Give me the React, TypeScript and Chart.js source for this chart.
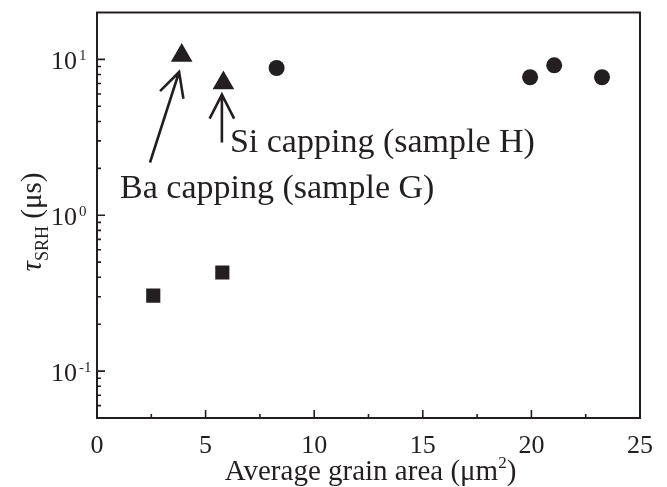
import React, { useEffect, useRef } from "react";
import { Chart, registerables } from "chart.js";

Chart.register(...registerables);

const squares = [
  { x: 2.59, y: 0.305 },
  { x: 5.77, y: 0.429 },
];
const triangles = [
  { x: 3.9, y: 10.6 },
  { x: 5.82, y: 7.06 },
];
const circles = [
  { x: 8.27, y: 8.81 },
  { x: 19.94, y: 7.68 },
  { x: 21.05, y: 9.16 },
  { x: 23.25, y: 7.68 },
];
const xTicks = [0, 5, 10, 15, 20, 25];
const xMinor = [2.5, 7.5, 12.5, 17.5, 22.5];
const yMajor = [0.1, 1, 10];
const yExp = ["-1", "0", "1"];
const yMinor = [0.06, 0.07, 0.08, 0.09, 0.2, 0.3, 0.4, 0.5, 0.6, 0.7, 0.8, 0.9, 2, 3, 4, 5, 6, 7, 8, 9];
const notes = [
  { text: "Si capping (sample H)", x: 6.12, y: 2.53, tailX: 5.75, tailY: 2.93, tipX: 5.75, tipY: 5.95 },
  { text: "Ba capping (sample G)", x: 1.06, y: 1.29, tailX: 2.44, tailY: 2.18, tipX: 3.78, tipY: 8.3 },
];
const xTitleParts = ["Average grain area (μm", "2", ")"];

const INK = "#231f20";
const SERIF = "'Liberation Serif', 'Times New Roman', serif";

const drawPlugin = {
  id: "customAxes",
  afterDraw(chart: any) {
    const { ctx, chartArea: a, scales } = chart;
    const xs = scales.x;
    const ys = scales.y;
    ctx.save();
    ctx.strokeStyle = INK;
    ctx.fillStyle = INK;
    ctx.lineWidth = 2;
    ctx.strokeRect(a.left, a.top, a.right - a.left, a.bottom - a.top);

    ctx.lineWidth = 1.6;
    ctx.beginPath();
    xTicks.forEach((v) => {
      const px = xs.getPixelForValue(v);
      ctx.moveTo(px, a.bottom);
      ctx.lineTo(px, a.bottom - 8);
    });
    xMinor.forEach((v) => {
      const px = xs.getPixelForValue(v);
      ctx.moveTo(px, a.bottom);
      ctx.lineTo(px, a.bottom - 4);
    });
    yMajor.forEach((v) => {
      const py = ys.getPixelForValue(v);
      ctx.moveTo(a.left, py);
      ctx.lineTo(a.left + 8, py);
    });
    yMinor.forEach((v) => {
      const py = ys.getPixelForValue(v);
      ctx.moveTo(a.left, py);
      ctx.lineTo(a.left + 4, py);
    });
    ctx.stroke();

    // x tick labels
    ctx.font = `26px ${SERIF}`;
    ctx.textAlign = "center";
    ctx.textBaseline = "alphabetic";
    xTicks.forEach((v) => {
      ctx.fillText(String(v), xs.getPixelForValue(v), a.bottom + 35);
    });

    // x title with superscript
    const mainFont = `29px ${SERIF}`;
    const supFont = `17px ${SERIF}`;
    ctx.font = mainFont;
    const w0 = ctx.measureText(xTitleParts[0]).width;
    const w2 = ctx.measureText(xTitleParts[2]).width;
    ctx.font = supFont;
    const w1 = ctx.measureText(xTitleParts[1]).width;
    let tx = (a.left + a.right) / 2 + 2 - (w0 + w1 + w2) / 2;
    ctx.textAlign = "left";
    ctx.font = mainFont;
    ctx.fillText(xTitleParts[0], tx, 480);
    tx += w0;
    ctx.font = supFont;
    ctx.fillText(xTitleParts[1], tx, 468);
    tx += w1;
    ctx.font = mainFont;
    ctx.fillText(xTitleParts[2], tx, 480);

    // y tick labels
    yMajor.forEach((v, i) => {
      const py = ys.getPixelForValue(v);
      ctx.font = `26px ${SERIF}`;
      ctx.textAlign = "right";
      ctx.fillText("10", 77, py + 10);
      ctx.font = `15px ${SERIF}`;
      ctx.textAlign = "left";
      ctx.fillText(yExp[i], 79, py + 1);
    });

    // y title (rotated)
    const parts = [
      { t: "τ", f: `italic 29px ${SERIF}`, dy: 0 },
      { t: "SRH", f: `18px ${SERIF}`, dy: 7 },
      { t: " (μs)", f: `29px ${SERIF}`, dy: 0 },
    ];
    let total = 0;
    parts.forEach((p) => {
      ctx.font = p.f;
      total += ctx.measureText(p.t).width;
    });
    ctx.translate(41, 222 + total / 2);
    ctx.rotate(-Math.PI / 2);
    ctx.textAlign = "left";
    let cx = 0;
    parts.forEach((p) => {
      ctx.font = p.f;
      ctx.fillText(p.t, cx, p.dy);
      cx += ctx.measureText(p.t).width;
    });
    ctx.setTransform(1, 0, 0, 1, 0, 0);
    ctx.restore();
  },
  afterDatasetsDraw(chart: any) {
    const { ctx, scales } = chart;
    const xs = scales.x;
    const ys = scales.y;
    ctx.save();
    ctx.strokeStyle = INK;
    ctx.fillStyle = INK;
    ctx.lineWidth = 2.6;
    ctx.lineCap = "butt";
    notes.forEach((n) => {
      const x0 = xs.getPixelForValue(n.tailX);
      const y0 = ys.getPixelForValue(n.tailY);
      const x1 = xs.getPixelForValue(n.tipX);
      const y1 = ys.getPixelForValue(n.tipY);
      const ang = Math.atan2(y0 - y1, x0 - x1);
      const len = 27;
      const spread = (27 * Math.PI) / 180;
      ctx.beginPath();
      ctx.moveTo(x0, y0);
      ctx.lineTo(x1, y1);
      ctx.moveTo(x1 + len * Math.cos(ang + spread), y1 + len * Math.sin(ang + spread));
      ctx.lineTo(x1, y1);
      ctx.lineTo(x1 + len * Math.cos(ang - spread), y1 + len * Math.sin(ang - spread));
      ctx.stroke();
      ctx.font = `34px ${SERIF}`;
      ctx.textAlign = "left";
      ctx.textBaseline = "alphabetic";
      ctx.fillText(n.text, xs.getPixelForValue(n.x), ys.getPixelForValue(n.y));
    });
    ctx.restore();
  },
};

export default function App() {
  const ref = useRef<HTMLCanvasElement | null>(null);
  useEffect(() => {
    if (!ref.current) return;
    const chart = new Chart(ref.current, {
      type: "scatter",
      data: {
        datasets: [
          { data: squares, pointStyle: "rect", pointRadius: 10, backgroundColor: INK, borderWidth: 0 },
          { data: triangles, pointStyle: "triangle", pointRadius: 12.5, backgroundColor: INK, borderWidth: 0 },
          { data: circles, pointStyle: "circle", pointRadius: 8, backgroundColor: INK, borderWidth: 0 },
        ],
      },
      options: {
        responsive: false,
        animation: false,
        layout: { padding: { top: 9, right: 27, left: 0, bottom: 0 } },
        plugins: { legend: { display: false }, tooltip: { enabled: false } },
        scales: {
          x: {
            type: "linear",
            min: 0,
            max: 25,
            ticks: { display: false },
            grid: { display: false, drawTicks: false },
            border: { display: false },
            afterFit: (s: any) => {
              s.height = 69;
            },
          },
          y: {
            type: "logarithmic",
            min: 0.05,
            max: 20,
            ticks: { display: false },
            grid: { display: false, drawTicks: false },
            border: { display: false },
            afterFit: (s: any) => {
              s.width = 97;
            },
          },
        },
      },
      plugins: [drawPlugin],
    });
    return () => chart.destroy();
  }, []);
  return (
    <div style={{ position: "fixed", left: 0, top: 0, width: 667, height: 487, background: "#fff" }}>
      <canvas ref={ref} width={667} height={487} style={{ display: "block" }} />
    </div>
  );
}
